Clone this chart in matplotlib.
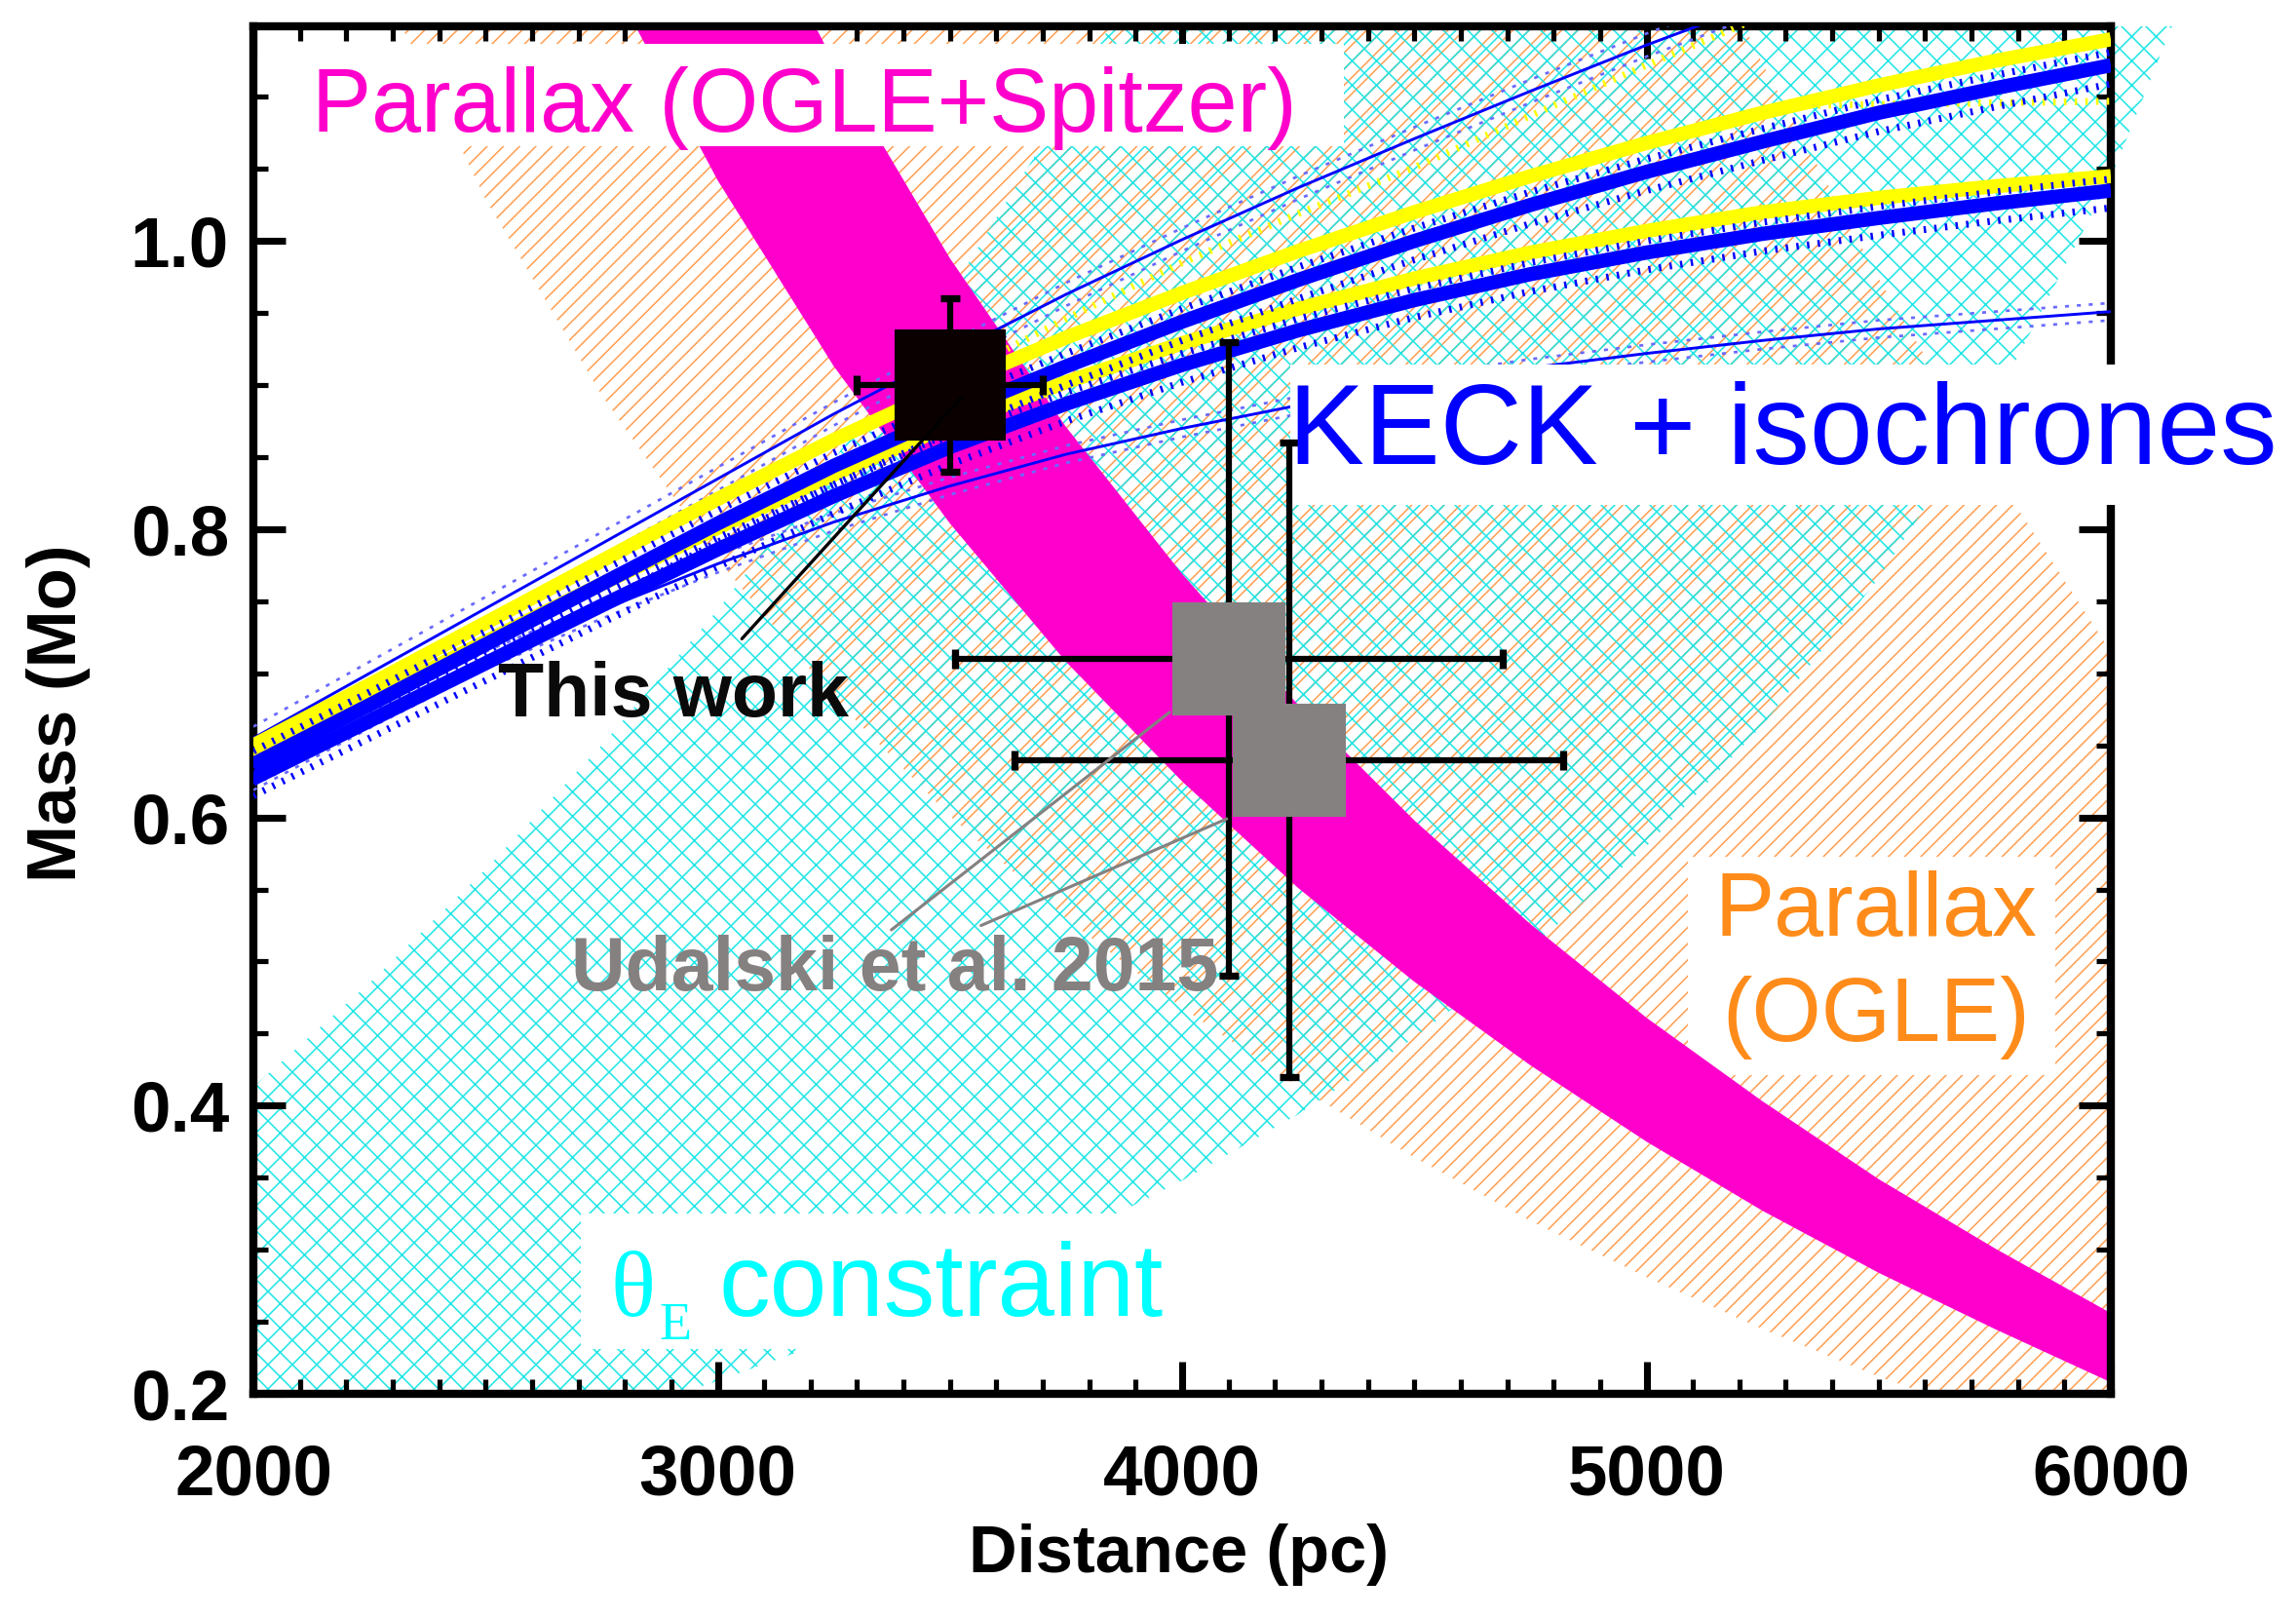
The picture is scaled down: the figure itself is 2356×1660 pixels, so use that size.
"""Mass-distance constraints for the lens (parallax, theta_E, KECK isochrones)."""

import matplotlib.pyplot as plt
from matplotlib.patches import Rectangle
from matplotlib.ticker import MultipleLocator

plt.rcParams['font.family'] = ['Liberation Sans', 'DejaVu Sans']
plt.rcParams['hatch.linewidth'] = 0.75

# ---- constraint bands (distance in pc, mass in Msun) ----
mag_dist = [2750, 3000, 3250, 3500, 3750, 4000, 4250, 4500, 4750, 5000, 5250, 5500, 5750, 6000]
mag_lo = [1.193, 1.042, 0.913, 0.804, 0.708, 0.625, 0.551, 0.486, 0.428, 0.375, 0.327, 0.284, 0.245, 0.208]
mag_hi = [1.468, 1.281, 1.124, 0.988, 0.871, 0.769, 0.678, 0.598, 0.526, 0.461, 0.403, 0.349, 0.301, 0.256]

ogle_dist = [2250, 2500, 2750, 3000, 3250, 3500, 3750, 4000, 4250, 4500, 4750, 5000, 5250, 5500, 5750, 6000]
ogle_lo = [1.195, 1.029, 0.893, 0.779, 0.683, 0.601, 0.530, 0.468, 0.413, 0.364, 0.320, 0.281, 0.245, 0.212, 0.183, 0.156]
ogle_hi = [1.149, 1.149, 1.149, 1.149, 1.149, 1.149, 1.149, 1.149, 1.149, 1.149, 1.149, 1.286, 1.123, 0.974, 0.839, 0.715]

theta_dist = [2000, 2250, 2500, 2750, 3000, 3250, 3500, 3750, 4000, 4250, 4500, 4750, 5000, 5250, 5500, 5750, 6000, 6250]
theta_lo = [0.116, 0.136, 0.158, 0.182, 0.209, 0.238, 0.271, 0.307, 0.348, 0.394, 0.447, 0.509, 0.580, 0.664, 0.766, 0.889, 1.044, 1.243]
theta_hi = [0.413, 0.485, 0.564, 0.650, 0.744, 0.848, 0.964, 1.094, 1.240, 1.149, 1.149, 1.149, 1.149, 1.149, 1.149, 1.149, 1.149, 1.149]

# ---- KECK + isochrone curves ----
iso_dist = [2000, 2250, 2500, 2750, 3000, 3250, 3500, 3750, 4000, 4250, 4500, 4750, 5000, 5250, 5500, 5750, 6000]
iso_yellow_up = [0.650, 0.692, 0.735, 0.778, 0.821, 0.862, 0.899, 0.933, 0.964, 0.993, 1.020, 1.045, 1.068, 1.089, 1.108, 1.125, 1.140]
iso_blue_up = [0.637, 0.678, 0.720, 0.762, 0.804, 0.844, 0.880, 0.913, 0.944, 0.973, 1.000, 1.025, 1.048, 1.069, 1.089, 1.106, 1.122]
iso_yellow_lo = [0.642, 0.682, 0.722, 0.762, 0.801, 0.838, 0.872, 0.902, 0.929, 0.953, 0.974, 0.992, 1.007, 1.020, 1.030, 1.038, 1.045]
iso_blue_lo = [0.627, 0.667, 0.707, 0.747, 0.786, 0.823, 0.857, 0.887, 0.914, 0.938, 0.959, 0.977, 0.992, 1.005, 1.016, 1.026, 1.035]
ub_dash_hi = [0.646, 0.687, 0.729, 0.771, 0.813, 0.853, 0.889, 0.922, 0.953, 0.982, 1.009, 1.034, 1.057, 1.078, 1.098, 1.115, 1.131]
ub_dash_lo = [0.624, 0.665, 0.707, 0.749, 0.791, 0.831, 0.867, 0.900, 0.931, 0.960, 0.987, 1.012, 1.035, 1.056, 1.076, 1.093, 1.109]
lb_dash_hi = [0.635, 0.675, 0.715, 0.755, 0.794, 0.831, 0.865, 0.895, 0.922, 0.946, 0.967, 0.985, 1.000, 1.013, 1.024, 1.034, 1.043]
lb_dash_lo = [0.615, 0.655, 0.695, 0.735, 0.774, 0.811, 0.845, 0.875, 0.902, 0.926, 0.947, 0.965, 0.980, 0.993, 1.004, 1.014, 1.023]
thin_up = [0.655, 0.700, 0.745, 0.790, 0.835, 0.880, 0.922, 0.963, 1.001, 1.037, 1.071, 1.104, 1.136, 1.166, 1.195, 1.223, 1.250]
thin_lo = [0.625, 0.668, 0.709, 0.744, 0.776, 0.805, 0.830, 0.852, 0.870, 0.886, 0.900, 0.912, 0.922, 0.931, 0.939, 0.945, 0.951]
thin_up_dot_a = [0.663, 0.708, 0.753, 0.798, 0.843, 0.888, 0.930, 0.971, 1.009, 1.045, 1.079, 1.112, 1.144, 1.174, 1.203, 1.231, 1.258]
thin_up_dot_b = [0.647, 0.692, 0.737, 0.782, 0.827, 0.872, 0.914, 0.955, 0.993, 1.029, 1.063, 1.096, 1.128, 1.158, 1.187, 1.215, 1.242]
thin_lo_dot_a = [0.631, 0.674, 0.715, 0.750, 0.782, 0.811, 0.836, 0.858, 0.876, 0.892, 0.906, 0.918, 0.928, 0.937, 0.945, 0.951, 0.957]
thin_lo_dot_b = [0.619, 0.662, 0.703, 0.738, 0.770, 0.799, 0.824, 0.846, 0.864, 0.880, 0.894, 0.906, 0.916, 0.925, 0.933, 0.939, 0.945]

yellow_dash_dist = [3500, 3750, 4000, 4250, 4500, 4750, 5000, 5250, 5500]
yellow_dash = [0.905, 0.946, 0.985, 1.019, 1.051, 1.087, 1.122, 1.156, 1.190]
yellow_flat_dist = [5300, 6000]
yellow_flat = [1.094, 1.097]

# ---- measured points ----
this_work_d = [3500]
this_work_m = [0.90]
this_work_derr = [200]
this_work_merr = [0.06]

udalski_d = [4100, 4230]
udalski_m = [0.71, 0.64]
udalski_derr = [590, 590]
udalski_merr = [0.22, 0.22]

x_ticks = [2000, 3000, 4000, 5000, 6000]
x_tick_labels = ['2000', '3000', '4000', '5000', '6000']
y_ticks = [0.2, 0.4, 0.6, 0.8, 1.0]
y_tick_labels = ['0.2', '0.4', '0.6', '0.8', '1.0']

MAGENTA = '#ff00cc'
ORANGE = '#ff8c1a'
CYAN = '#00ffff'
BLUE = '#0000ff'
GRAY = '#858181'

fig = plt.figure(figsize=(2356 / 150, 1660 / 150), dpi=150)
ax = fig.add_axes([0.11036, 0.13855, 0.80900, 0.84518])
ax.set_xlim(2000, 6000)
ax.set_ylim(0.2, 1.149)

# hatched constraint regions
ax.fill_between(ogle_dist, ogle_lo, ogle_hi, facecolor='none', edgecolor='#ffa055',
                hatch='///', linewidth=0, zorder=1)
theta_fill = ax.fill_between(theta_dist, theta_lo, theta_hi, facecolor='none', edgecolor='#20e6e6',
                             hatch='xx', linewidth=0, zorder=1.1)
theta_fill.set_clip_path(Rectangle((0, 0), 1.1, 1, transform=ax.transAxes))

# white label boxes
ax.add_patch(Rectangle((5089, 0.421), 791, 0.152, facecolor='white', edgecolor='none', zorder=1.5))
ax.add_patch(Rectangle((2706, 0.231), 1344, 0.094, facecolor='white', edgecolor='none', zorder=1.5))

# OGLE+Spitzer parallax band
ax.fill_between(mag_dist, mag_lo, mag_hi, facecolor=MAGENTA, edgecolor='none', linewidth=0, zorder=2)

# isochrone curves
for arr in (thin_up_dot_a, thin_up_dot_b, thin_lo_dot_a, thin_lo_dot_b):
    ax.plot(iso_dist, arr, color='#6a6aff', lw=1.3, ls=(0, (1.5, 3)), zorder=3)
ax.plot(iso_dist, thin_up, color=BLUE, lw=1.4, zorder=3.1)
ax.plot(iso_dist, thin_lo, color=BLUE, lw=1.4, zorder=3.1)
ax.plot(yellow_dash_dist, yellow_dash, color='yellow', lw=3.4, dashes=(0.35, 1.2), zorder=3.1)
ax.plot(yellow_flat_dist, yellow_flat, color='yellow', lw=3.4, dashes=(0.35, 1.2), zorder=3.1)
ax.plot(iso_dist, iso_yellow_up, color='yellow', lw=7, zorder=3.2, solid_capstyle='butt')
ax.plot(iso_dist, iso_yellow_lo, color='yellow', lw=7, zorder=3.2, solid_capstyle='butt')
ax.plot(iso_dist, iso_blue_up, color=BLUE, lw=7, zorder=3.3, solid_capstyle='butt')
ax.plot(iso_dist, iso_blue_lo, color=BLUE, lw=7, zorder=3.3, solid_capstyle='butt')
for arr in (ub_dash_hi, ub_dash_lo, lb_dash_hi, lb_dash_lo):
    ax.plot(iso_dist, arr, color=BLUE, lw=3.4, dashes=(0.35, 1.2), zorder=3.4)

# label boxes above the curves
ax.add_patch(Rectangle((2070, 1.066), 2278, 0.071, facecolor='white', edgecolor='none', zorder=4))
ax.add_patch(Rectangle((4232, 0.817), 2400, 0.097, facecolor='white', edgecolor='none',
                       zorder=6, clip_on=False))

# data points
ax.errorbar(udalski_d, udalski_m, xerr=udalski_derr, yerr=udalski_merr, fmt='s', ms=55,
            mfc=GRAY, mec=GRAY, ecolor='black', elinewidth=3, capsize=5, capthick=3.5, zorder=7)
ax.errorbar(this_work_d, this_work_m, xerr=this_work_derr, yerr=this_work_merr, fmt='s', ms=54,
            mfc='#0a0000', mec='#0a0000', ecolor='black', elinewidth=3, capsize=5, capthick=3.5,
            zorder=7)

# leader lines
ax.annotate('', xy=(3526, 0.892), xytext=(3052, 0.724),
            arrowprops=dict(arrowstyle='-', color='black', lw=1.6, shrinkA=0, shrinkB=0), zorder=8)
ax.annotate('', xy=(3973, 0.673), xytext=(3374, 0.522),
            arrowprops=dict(arrowstyle='-', color=GRAY, lw=1.5, shrinkA=0, shrinkB=0), zorder=8)
ax.annotate('', xy=(4096, 0.599), xytext=(3567, 0.525),
            arrowprops=dict(arrowstyle='-', color=GRAY, lw=1.5, shrinkA=0, shrinkB=0), zorder=8)

# labels
ax.text(2126, 1.076, 'Parallax (OGLE+Spitzer)', color=MAGENTA, fontsize=44, va='baseline', zorder=5)
ax.text(4229, 0.845, 'KECK + isochrones', color=BLUE, fontsize=56, va='baseline', zorder=9,
        clip_on=False)
ax.text(2526, 0.670, 'This work', color='#0a0a0a', fontsize=37, fontweight='bold',
        va='baseline', zorder=9)
ax.text(2684, 0.480, 'Udalski et al. 2015', color=GRAY, fontsize=37, fontweight='bold',
        va='baseline', zorder=9)
ax.text(5495, 0.518, 'Parallax', color=ORANGE, fontsize=44, ha='center', va='baseline', zorder=9)
ax.text(5495, 0.445, '(OGLE)', color=ORANGE, fontsize=44, ha='center', va='baseline', zorder=9)
ax.text(2770, 0.254, '\u03b8', color=CYAN, fontsize=46, family='Liberation Serif',
        va='baseline', zorder=9)
ax.text(2873, 0.238, 'E', color=CYAN, fontsize=26, family='Liberation Serif',
        va='baseline', zorder=9)
ax.text(3003, 0.254, 'constraint', color=CYAN, fontsize=50.5, va='baseline', zorder=9)

# axes styling
ax.set_xticks(x_ticks, labels=x_tick_labels, fontsize=35, fontweight='bold')
ax.set_yticks(y_ticks, labels=y_tick_labels, fontsize=35, fontweight='bold')
ax.xaxis.set_minor_locator(MultipleLocator(100))
ax.yaxis.set_minor_locator(MultipleLocator(0.05))
ax.tick_params(which='both', direction='in', top=True, right=True)
ax.tick_params(which='major', length=16, width=3.4)
ax.tick_params(which='minor', length=7, width=2.5)
ax.tick_params(axis='x', which='major', pad=24)
ax.tick_params(axis='y', which='major', pad=12)
for sp in ax.spines.values():
    sp.set_linewidth(4)

ax.set_xlabel('Distance (pc)', fontsize=33, fontweight='bold', va='center')
ax.xaxis.set_label_coords(0.498, -0.1176)
ax.set_ylabel('Mass (Mo)', fontsize=34, fontweight='bold', va='center')
ax.yaxis.set_label_coords(-0.105, 0.4975)

fig.savefig('out.png', dpi=150)
